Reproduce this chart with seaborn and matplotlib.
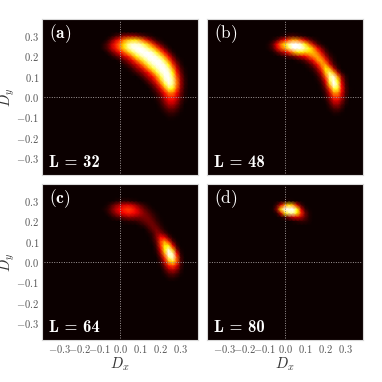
import numpy as np
import pandas as pd
import seaborn as sns
import matplotlib
matplotlib.use("Agg")
import matplotlib.pyplot as plt

# density, in percent of the colour scale
# each row: Dy -> (Dx of first value, values every 0.02)
rows_a = {
    0.30: (-0.04, [3, 8, 14, 20, 22, 22, 20, 14, 9, 5, 2]),
    0.28: (-0.06, [5, 16, 30, 42, 56, 65, 70, 70, 60, 46, 30, 16, 6, 2]),
    0.26: (-0.08, [4, 12, 28, 42, 55, 70, 88, 96, 96, 92, 80, 64, 46, 26, 12, 4]),
    0.24: (-0.08, [5, 12, 28, 40, 55, 70, 88, 98, 100, 100, 96, 85, 70, 52, 33, 15, 5]),
    0.22: (-0.06, [5, 14, 25, 38, 50, 66, 82, 94, 100, 100, 100, 94, 76, 56, 36, 16, 4]),
    0.20: (-0.04, [4, 10, 18, 30, 40, 56, 74, 88, 98, 100, 100, 96, 80, 58, 36, 15, 3]),
    0.18: (0.00, [5, 12, 22, 34, 50, 66, 82, 96, 100, 100, 98, 80, 54, 28, 10, 2]),
    0.16: (0.02, [4, 10, 20, 30, 45, 62, 80, 94, 100, 100, 96, 74, 44, 20, 5]),
    0.14: (0.04, [3, 8, 18, 27, 42, 60, 78, 92, 100, 100, 90, 60, 30, 10, 2]),
    0.12: (0.06, [3, 8, 15, 25, 38, 56, 78, 94, 100, 98, 74, 40, 15, 3]),
    0.10: (0.10, [6, 14, 26, 36, 56, 80, 98, 100, 84, 48, 20, 5]),
    0.08: (0.12, [5, 13, 25, 42, 66, 92, 100, 90, 54, 22, 6]),
    0.06: (0.14, [5, 13, 27, 48, 76, 96, 88, 55, 22, 6]),
    0.04: (0.16, [6, 16, 33, 55, 80, 75, 48, 20, 5]),
    0.02: (0.16, [2, 8, 20, 38, 55, 55, 38, 16, 4]),
    0.00: (0.18, [4, 12, 28, 42, 42, 30, 12, 3]),
    -0.02: (0.18, [2, 8, 20, 33, 34, 24, 9, 2]),
    -0.04: (0.20, [5, 13, 23, 24, 16, 6]),
    -0.06: (0.20, [2, 7, 13, 14, 9, 3]),
    -0.08: (0.22, [3, 6, 7, 4, 1]),
    -0.10: (0.24, [2, 2, 1]),
}
rows_b = {
    0.30: (-0.02, [2, 5, 8, 9, 7, 4, 2]),
    0.28: (-0.06, [3, 10, 25, 38, 50, 60, 58, 45, 30, 16, 6, 2]),
    0.26: (-0.08, [3, 12, 35, 55, 72, 92, 100, 100, 92, 72, 50, 28, 10, 3]),
    0.24: (-0.08, [3, 10, 30, 48, 62, 85, 100, 100, 100, 88, 75, 58, 36, 16, 5]),
    0.22: (-0.06, [2, 10, 20, 30, 42, 58, 70, 72, 68, 68, 65, 52, 32, 12, 3]),
    0.20: (-0.02, [3, 6, 10, 15, 22, 30, 36, 48, 58, 62, 48, 25, 8, 2]),
    0.18: (0.06, [3, 6, 12, 24, 38, 58, 62, 42, 18, 5]),
    0.16: (0.10, [3, 8, 20, 38, 58, 60, 32, 10, 2]),
    0.14: (0.12, [3, 8, 22, 45, 72, 62, 28, 6]),
    0.12: (0.14, [3, 12, 30, 65, 85, 62, 25, 5]),
    0.10: (0.16, [5, 18, 50, 90, 95, 58, 20, 4]),
    0.08: (0.16, [2, 10, 35, 82, 100, 75, 28, 6]),
    0.06: (0.18, [5, 24, 65, 100, 85, 35, 8]),
    0.04: (0.18, [3, 14, 45, 80, 78, 38, 9, 1]),
    0.02: (0.20, [8, 30, 58, 58, 33, 9, 1]),
    0.00: (0.20, [5, 20, 43, 45, 26, 7]),
    -0.02: (0.20, [2, 13, 30, 32, 18, 5]),
    -0.04: (0.22, [7, 18, 20, 10, 2]),
    -0.06: (0.22, [3, 8, 10, 5]),
    -0.08: (0.24, [3, 3, 1]),
}
rows_c = {
    0.30: (-0.02, [2, 4, 5, 5, 3, 2]),
    0.28: (-0.06, [3, 10, 18, 25, 30, 31, 28, 20, 12, 6, 2]),
    0.26: (-0.08, [2, 6, 16, 27, 36, 42, 45, 42, 33, 22, 13, 7, 2]),
    0.24: (-0.06, [4, 12, 21, 30, 36, 40, 38, 33, 25, 18, 12, 6, 2]),
    0.22: (-0.04, [4, 8, 12, 16, 20, 20, 18, 17, 17, 16, 10, 4, 1]),
    0.20: (0.02, [3, 4, 5, 6, 9, 13, 16, 14, 7, 2]),
    0.18: (0.10, [3, 6, 12, 16, 12, 5, 1]),
    0.16: (0.14, [6, 13, 17, 10, 3]),
    0.14: (0.14, [2, 7, 18, 20, 12, 3]),
    0.12: (0.16, [5, 18, 38, 35, 14, 3]),
    0.10: (0.16, [3, 14, 45, 60, 42, 12, 2]),
    0.08: (0.18, [10, 42, 72, 72, 35, 7]),
    0.06: (0.18, [6, 32, 72, 95, 65, 18, 2]),
    0.04: (0.18, [3, 22, 60, 100, 92, 38, 5]),
    0.02: (0.20, [12, 42, 85, 95, 50, 9]),
    0.00: (0.20, [6, 28, 60, 72, 48, 10, 1]),
    -0.02: (0.20, [3, 16, 38, 45, 32, 8]),
    -0.04: (0.22, [8, 20, 26, 18, 5]),
    -0.06: (0.22, [3, 9, 12, 8, 2]),
    -0.08: (0.24, [3, 4, 2]),
}
rows_d = {
    0.30: (-0.02, [1, 2, 2, 1]),
    0.28: (-0.04, [8, 30, 58, 70, 60, 30, 8, 1]),
    0.26: (-0.06, [2, 20, 70, 100, 100, 100, 75, 30, 6, 1]),
    0.24: (-0.04, [5, 30, 70, 88, 90, 72, 42, 15, 3]),
    0.22: (-0.02, [3, 8, 18, 28, 30, 24, 12, 3]),
    0.20: (0.04, [2, 4, 6, 5, 2]),
}
panel_rows = [rows_a, rows_b, rows_c, rows_d]

grid_x = [round(-0.12 + 0.02 * i, 2) for i in range(25)]
grid_y = [round(0.32 - 0.02 * i, 2) for i in range(23)]

tick_vals = [-0.3, -0.2, -0.1, 0.0, 0.1, 0.2, 0.3]
tick_labels = [r"$-0.3$", r"$-0.2$", r"$-0.1$", r"$0.0$", r"$0.1$", r"$0.2$", r"$0.3$"]
panel_tags = [r"$(\mathbf{a})$", r"$(\mathrm{b})$", r"$(\mathbf{c})$", r"$(\mathrm{d})$"]
size_tags = ["L = 32", "L = 48", "L = 64", "L = 80"]

sns.set_style("white")
plt.rcParams["mathtext.fontset"] = "cm"
hot = sns.color_palette("hot", as_cmap=True)

W, H = 382.0, 382.0
boxes = [(42, 19), (207, 19), (42, 184), (207, 184)]
LIM = 0.385


def make_table(rows):
    table = pd.DataFrame(0.0, index=grid_y, columns=grid_x)
    for y, (x0, vals) in rows.items():
        for k, v in enumerate(vals):
            table.loc[y, round(x0 + 0.02 * k, 2)] = v
    return table


to_col = lambda v: (np.asarray(v) - grid_x[0]) / 0.02
to_row = lambda v: (grid_y[0] - np.asarray(v)) / 0.02

fig = plt.figure(figsize=(3.82, 3.82), dpi=100)
for n, (px, py) in enumerate(boxes):
    ax = fig.add_axes([px / W, 1 - (py + 156) / H, 156 / W, 156 / H])
    ax.set_facecolor(hot(0.0))
    sns.heatmap(make_table(panel_rows[n]), cmap=hot, vmin=0, vmax=100, cbar=False, ax=ax,
                shading="gouraud", xticklabels=False, yticklabels=False)
    ax.set_xlim(to_col(-LIM), to_col(LIM))
    ax.set_ylim(to_row(-LIM), to_row(LIM))

    ax.plot(to_col([-0.375, 0.375]), to_row([0, 0]), ls=(0, (1, 1.5)), color="#a09898", lw=0.7)
    ax.plot(to_col([0, 0]), to_row([-0.375, 0.375]), ls=(0, (1, 1.5)), color="#a09898", lw=0.7)

    ax.tick_params(length=0, pad=2, labelsize=7.6, labelcolor="#555555")
    if n >= 2:
        ax.set_xticks(to_col(tick_vals))
        ax.set_xticklabels(tick_labels, rotation=0)
        ax.set_xlabel(r"$D_x$", fontsize=10.5, color="#333333")
        ax.xaxis.set_label_coords(0.5, -0.1, transform=ax.transAxes)
    else:
        ax.set_xticks([])
        ax.set_xlabel("")
    if n % 2 == 0:
        ax.set_yticks(to_row(tick_vals))
        ax.set_yticklabels(tick_labels, rotation=0)
        ax.set_ylabel(r"$D_y$", fontsize=10.5, color="#333333")
        ax.yaxis.set_label_coords(-0.16, 0.5, transform=ax.transAxes)
    else:
        ax.set_yticks([])
        ax.set_ylabel("")

    for sp in ax.spines.values():
        sp.set_visible(True)
        sp.set_color("#d8d8d8")
        sp.set_linewidth(0.8)

    ax.text(0.045, 0.905, panel_tags[n], transform=ax.transAxes, color="white", fontsize=12.5, va="center")
    ax.text(0.045, 0.078, size_tags[n], transform=ax.transAxes, color="white", fontsize=12, va="center",
            family=["cmb10", "DejaVu Serif"])

fig.savefig("out.png", dpi=100)
